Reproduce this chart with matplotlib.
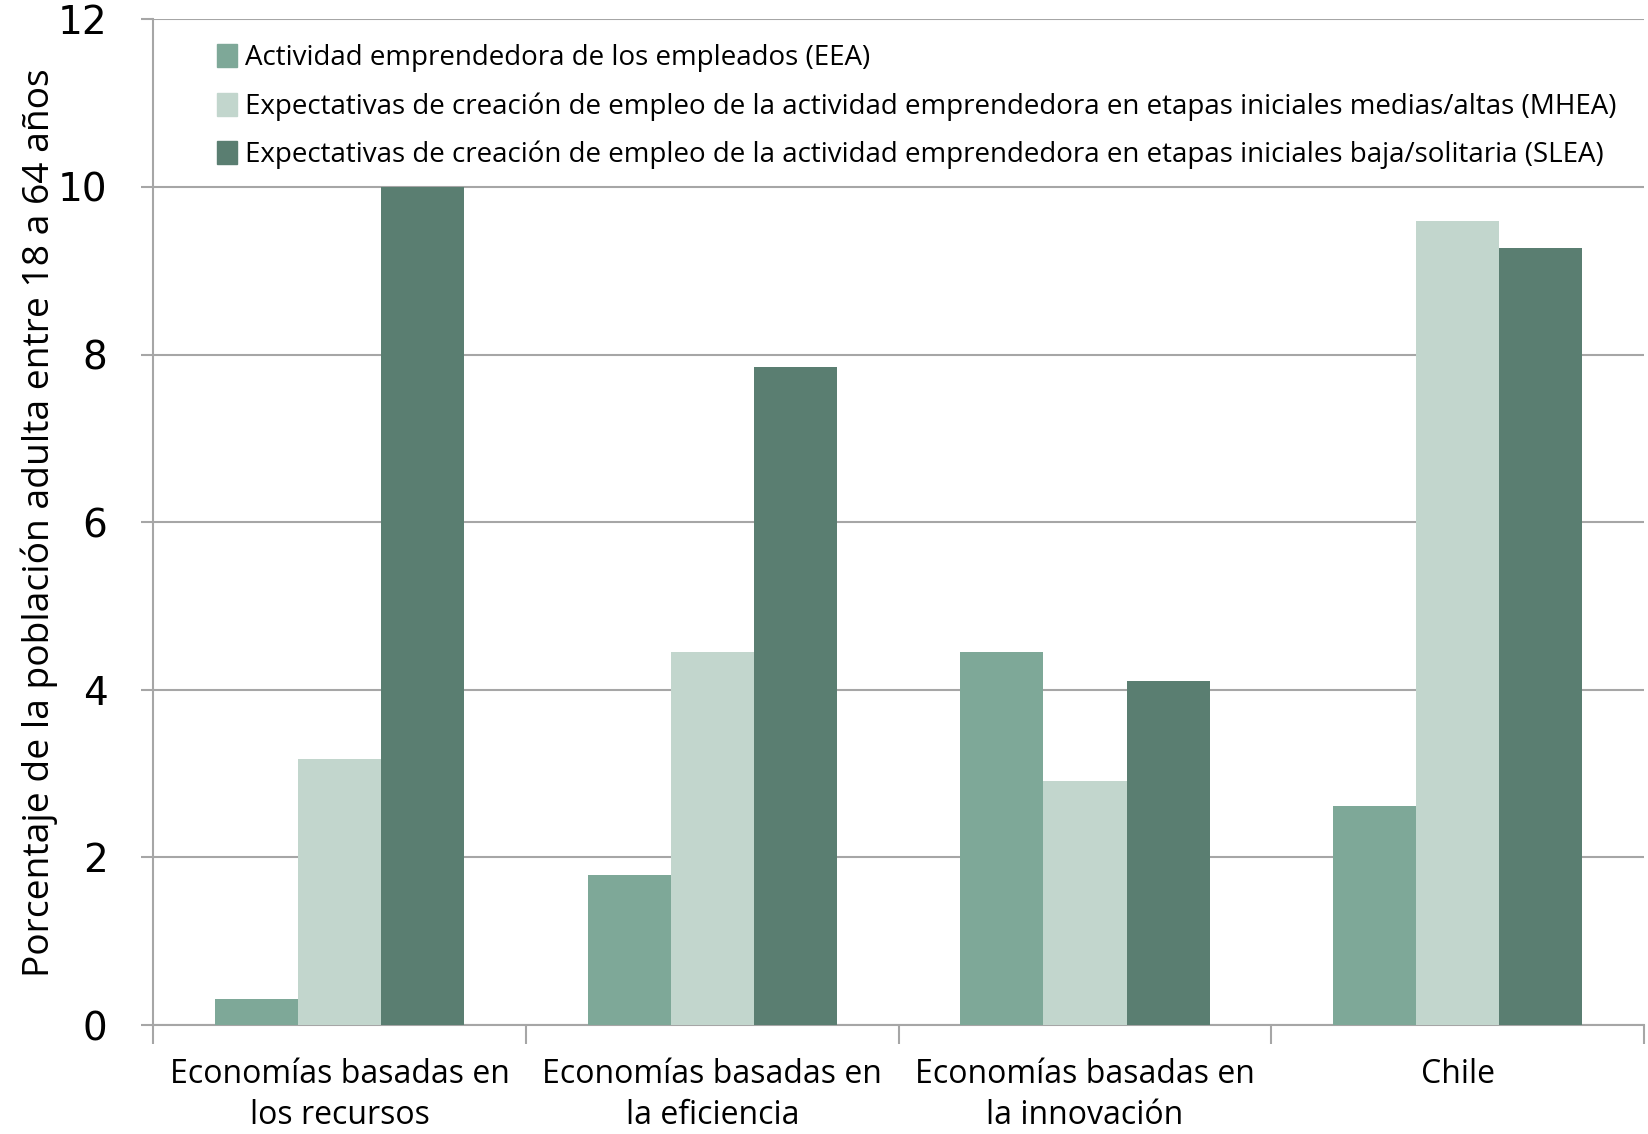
import numpy as np
import matplotlib
matplotlib.use("Agg")
import matplotlib.pyplot as plt
from matplotlib.patches import Patch

categories = ["Economías basadas en\nlos recursos", "Economías basadas en\nla eficiencia",
              "Economías basadas en\nla innovación", "Chile"]
series_names = ["Actividad emprendedora de los empleados (EEA)",
                "Expectativas de creación de empleo de la actividad emprendedora en etapas iniciales medias/altas (MHEA)",
                "Expectativas de creación de empleo de la actividad emprendedora en etapas iniciales baja/solitaria (SLEA)"]
eea = [0.31, 1.79, 4.45, 2.62]
mhea = [3.17, 4.45, 2.91, 9.59]
slea = [10.0, 7.85, 4.10, 9.27]
colors = ["#7EA898", "#C2D6CD", "#5A7E71"]

text_font = ["Open Sans", "DejaVu Sans"]

fig = plt.figure(figsize=(16.49, 11.34), dpi=100)
ax = fig.add_axes([0.093, 0.096, 0.904, 0.887])

x = np.arange(len(categories))
w = 0.223
for i, vals in enumerate([eea, mhea, slea]):
    ax.bar(x + (i - 1) * w, vals, width=w, color=colors[i], zorder=3)

ax.set_xlim(-0.5, 3.5)
ax.set_ylim(0, 12)
ax.set_yticks(np.arange(0, 13, 2))
ax.yaxis.grid(True, color="#A6A6A6", lw=1.5, zorder=0)
for s in ["top", "right"]:
    ax.spines[s].set_visible(False)
for s in ["left", "bottom"]:
    ax.spines[s].set_color("#A6A6A6")
    ax.spines[s].set_linewidth(1.5)

ax.set_xticks(x)
ax.set_xticklabels(categories, fontsize=23, family=text_font, linespacing=1.3)
ax.set_xticks(np.arange(-0.5, 4, 1), minor=True)
ax.tick_params(axis="x", which="major", length=0, pad=24)
ax.tick_params(axis="x", which="minor", length=14, width=1.5, color="#A6A6A6")
ax.tick_params(axis="y", length=9, width=1.5, color="#A6A6A6", pad=24)
for lab in ax.get_yticklabels():
    lab.set_fontsize(28)
    lab.set_family("DejaVu Sans")

ax.set_ylabel("Porcentaje de la población adulta entre 18 a 64 años",
              fontsize=26.8, family=text_font, labelpad=0)

handles = [Patch(color=c) for c in colors]
ax.legend(handles, series_names, loc="upper left", bbox_to_anchor=(0.026, 1.0),
          frameon=False, prop={"family": text_font, "size": 20},
          handlelength=0.7, handleheight=0.9, handletextpad=0.3, labelspacing=0.72)

fig.savefig("out.png", dpi=100)
